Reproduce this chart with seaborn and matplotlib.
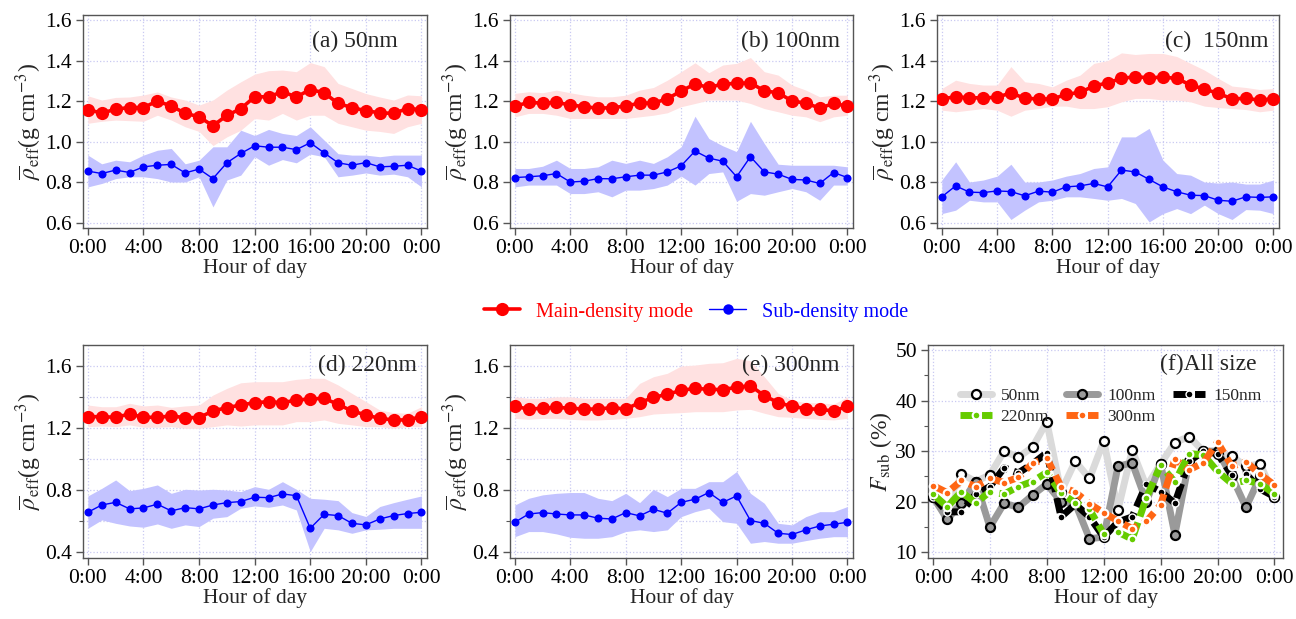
import matplotlib
matplotlib.use("Agg")
import matplotlib.pyplot as plt
import seaborn as sns
from matplotlib.ticker import MultipleLocator, FixedLocator, FixedFormatter, FormatStrFormatter, NullLocator
from matplotlib.lines import Line2D

# ---------------- data ----------------
hours = list(range(25))
hour_ticks = [0, 4, 8, 12, 16, 20, 24]
hour_labels = ["0:00", "4:00", "8:00", "12:00", "16:00", "20:00", "0:00"]

panel_labels = ["(a) 50nm", "(b) 100nm", "(c)  150nm", "(d) 220nm", "(e) 300nm", "(f)All size"]
legend_labels = ["Main-density mode", "Sub-density mode"]

a_main = [1.158, 1.14, 1.16, 1.168, 1.168, 1.20, 1.175, 1.14, 1.122, 1.078, 1.129, 1.162, 1.221, 1.221, 1.246, 1.22, 1.257, 1.241, 1.188, 1.168, 1.152, 1.142, 1.139, 1.163, 1.158]
a_main_hi = [1.226, 1.205, 1.218, 1.22, 1.23, 1.245, 1.22, 1.205, 1.18, 1.205, 1.254, 1.295, 1.333, 1.35, 1.353, 1.345, 1.39, 1.37, 1.287, 1.262, 1.237, 1.22, 1.205, 1.23, 1.226]
a_main_lo = [1.09, 1.10, 1.106, 1.103, 1.10, 1.13, 1.106, 1.073, 1.05, 0.98, 1.023, 1.056, 1.114, 1.106, 1.139, 1.106, 1.13, 1.13, 1.09, 1.073, 1.056, 1.05, 1.04, 1.073, 1.09]
a_sub = [0.854, 0.842, 0.859, 0.847, 0.875, 0.883, 0.887, 0.845, 0.864, 0.817, 0.895, 0.941, 0.979, 0.972, 0.972, 0.96, 0.994, 0.944, 0.895, 0.883, 0.896, 0.875, 0.878, 0.883, 0.854]
a_sub_hi = [0.933, 0.89, 0.908, 0.90, 0.933, 0.957, 0.966, 0.89, 0.908, 0.974, 0.974, 1.056, 1.03, 1.06, 1.04, 1.03, 1.073, 1.007, 0.94, 0.933, 0.933, 0.925, 0.933, 0.933, 0.933]
a_sub_lo = [0.776, 0.793, 0.817, 0.826, 0.826, 0.817, 0.80, 0.80, 0.826, 0.677, 0.81, 0.834, 0.925, 0.883, 0.911, 0.895, 0.938, 0.925, 0.826, 0.834, 0.845, 0.834, 0.839, 0.826, 0.776]

b_main = [1.175, 1.193, 1.19, 1.193, 1.181, 1.172, 1.165, 1.167, 1.175, 1.19, 1.19, 1.211, 1.25, 1.284, 1.267, 1.284, 1.287, 1.29, 1.25, 1.241, 1.20, 1.19, 1.165, 1.188, 1.175]
b_main_hi = [1.238, 1.246, 1.241, 1.254, 1.241, 1.229, 1.221, 1.221, 1.229, 1.254, 1.267, 1.303, 1.345, 1.389, 1.34, 1.378, 1.386, 1.415, 1.345, 1.328, 1.279, 1.254, 1.221, 1.229, 1.229]
b_main_lo = [1.122, 1.139, 1.139, 1.13, 1.114, 1.114, 1.114, 1.114, 1.114, 1.122, 1.13, 1.142, 1.172, 1.188, 1.205, 1.205, 1.205, 1.188, 1.163, 1.147, 1.13, 1.122, 1.098, 1.122, 1.13]
b_sub = [0.822, 0.826, 0.831, 0.842, 0.80, 0.804, 0.817, 0.816, 0.826, 0.834, 0.834, 0.85, 0.88, 0.953, 0.918, 0.903, 0.826, 0.925, 0.85, 0.839, 0.813, 0.81, 0.793, 0.847, 0.822]
b_sub_hi = [0.867, 0.867, 0.878, 0.908, 0.867, 0.867, 0.875, 0.908, 0.892, 0.908, 0.892, 0.925, 0.974, 1.125, 1.015, 0.979, 0.95, 1.10, 0.99, 0.888, 0.883, 0.883, 0.883, 0.883, 0.875]
b_sub_lo = [0.776, 0.785, 0.785, 0.785, 0.743, 0.743, 0.752, 0.727, 0.76, 0.76, 0.768, 0.785, 0.829, 0.785, 0.842, 0.85, 0.705, 0.743, 0.735, 0.752, 0.768, 0.752, 0.71, 0.785, 0.785]

c_main = [1.211, 1.221, 1.216, 1.216, 1.218, 1.241, 1.213, 1.211, 1.21, 1.233, 1.243, 1.274, 1.29, 1.312, 1.32, 1.315, 1.318, 1.312, 1.279, 1.259, 1.238, 1.211, 1.213, 1.205, 1.211]
c_main_hi = [1.262, 1.303, 1.287, 1.279, 1.279, 1.37, 1.295, 1.287, 1.27, 1.303, 1.328, 1.386, 1.40, 1.438, 1.43, 1.435, 1.435, 1.42, 1.386, 1.353, 1.312, 1.274, 1.267, 1.257, 1.262]
c_main_lo = [1.155, 1.147, 1.155, 1.163, 1.155, 1.125, 1.155, 1.163, 1.175, 1.175, 1.163, 1.163, 1.172, 1.196, 1.213, 1.213, 1.205, 1.205, 1.196, 1.175, 1.168, 1.163, 1.158, 1.147, 1.155]
c_sub = [0.727, 0.781, 0.75, 0.748, 0.756, 0.753, 0.732, 0.755, 0.75, 0.776, 0.781, 0.793, 0.776, 0.859, 0.85, 0.813, 0.776, 0.752, 0.735, 0.733, 0.71, 0.705, 0.727, 0.724, 0.727]
c_sub_hi = [0.81, 0.90, 0.80, 0.81, 0.829, 0.888, 0.80, 0.80, 0.81, 0.829, 0.842, 0.867, 0.875, 1.023, 1.023, 1.065, 0.908, 0.842, 0.834, 0.80, 0.795, 0.80, 0.79, 0.79, 0.81]
c_sub_lo = [0.644, 0.661, 0.71, 0.702, 0.702, 0.615, 0.661, 0.702, 0.71, 0.727, 0.727, 0.719, 0.71, 0.719, 0.694, 0.603, 0.644, 0.669, 0.644, 0.686, 0.644, 0.615, 0.664, 0.661, 0.644]

d_main = [1.272, 1.272, 1.268, 1.289, 1.268, 1.268, 1.276, 1.266, 1.266, 1.309, 1.33, 1.347, 1.362, 1.368, 1.362, 1.379, 1.386, 1.39, 1.351, 1.309, 1.283, 1.261, 1.251, 1.251, 1.272]
d_main_hi = [1.347, 1.336, 1.336, 1.358, 1.341, 1.347, 1.332, 1.341, 1.347, 1.411, 1.454, 1.49, 1.497, 1.497, 1.497, 1.512, 1.519, 1.519, 1.476, 1.422, 1.369, 1.315, 1.298, 1.294, 1.336]
d_main_lo = [1.208, 1.212, 1.208, 1.219, 1.204, 1.204, 1.208, 1.197, 1.197, 1.208, 1.219, 1.212, 1.219, 1.219, 1.219, 1.24, 1.24, 1.251, 1.229, 1.219, 1.208, 1.208, 1.197, 1.208, 1.208]
d_sub = [0.657, 0.704, 0.721, 0.679, 0.685, 0.709, 0.666, 0.687, 0.679, 0.704, 0.719, 0.726, 0.754, 0.751, 0.775, 0.764, 0.554, 0.644, 0.636, 0.586, 0.576, 0.614, 0.636, 0.649, 0.657]
d_sub_hi = [0.762, 0.811, 0.865, 0.796, 0.811, 0.833, 0.779, 0.805, 0.80, 0.805, 0.80, 0.79, 0.822, 0.805, 0.854, 0.805, 0.747, 0.741, 0.732, 0.655, 0.63, 0.694, 0.719, 0.741, 0.762]
d_sub_lo = [0.554, 0.608, 0.586, 0.569, 0.561, 0.582, 0.554, 0.576, 0.565, 0.619, 0.629, 0.683, 0.698, 0.689, 0.704, 0.672, 0.404, 0.554, 0.544, 0.522, 0.544, 0.548, 0.554, 0.554, 0.554]

e_main = [1.338, 1.321, 1.326, 1.332, 1.326, 1.321, 1.321, 1.33, 1.321, 1.362, 1.396, 1.416, 1.441, 1.454, 1.448, 1.446, 1.461, 1.471, 1.407, 1.362, 1.338, 1.324, 1.319, 1.309, 1.338]
e_main_hi = [1.40, 1.39, 1.39, 1.40, 1.40, 1.39, 1.39, 1.39, 1.39, 1.486, 1.529, 1.551, 1.598, 1.604, 1.615, 1.619, 1.647, 1.632, 1.529, 1.422, 1.379, 1.362, 1.362, 1.353, 1.40]
e_main_lo = [1.261, 1.255, 1.261, 1.261, 1.255, 1.251, 1.251, 1.255, 1.261, 1.272, 1.289, 1.294, 1.298, 1.304, 1.304, 1.304, 1.315, 1.319, 1.294, 1.272, 1.268, 1.261, 1.255, 1.251, 1.261]
e_sub = [0.593, 0.646, 0.655, 0.646, 0.64, 0.64, 0.619, 0.614, 0.655, 0.634, 0.676, 0.651, 0.721, 0.741, 0.784, 0.721, 0.762, 0.604, 0.586, 0.522, 0.514, 0.544, 0.569, 0.58, 0.593]
e_sub_hi = [0.704, 0.747, 0.769, 0.779, 0.784, 0.784, 0.747, 0.732, 0.779, 0.719, 0.805, 0.758, 0.811, 0.811, 0.854, 0.854, 0.919, 0.779, 0.715, 0.586, 0.576, 0.629, 0.661, 0.661, 0.694]
e_sub_lo = [0.50, 0.533, 0.533, 0.518, 0.496, 0.49, 0.49, 0.50, 0.533, 0.544, 0.533, 0.544, 0.629, 0.661, 0.683, 0.597, 0.586, 0.458, 0.469, 0.458, 0.458, 0.475, 0.49, 0.50, 0.50]

f_sizes = ["50nm", "100nm", "150nm", "220nm", "300nm"]
f_50 = [21, 17, 25.5, 24, 25.3, 30, 28.8, 30.8, 35.8, 22, 28, 24.6, 32, 18.4, 30.2, 23, 27.5, 31.7, 32.9, 30, 29.5, 29, 27, 27.5, 21]
f_100 = [21, 16.5, 19.7, 24, 15, 19.7, 18.9, 21.3, 23.5, 20, 19.7, 12.7, 13, 27, 27.7, 20, 27.5, 13.5, 28, 30, 30, 25, 18.9, 25, 21]
f_150 = [21, 18, 18, 21.5, 23, 26.7, 25.7, 27.5, 29.7, 17, 19.5, 17, 13, 16, 17, 23.5, 22, 19.7, 28, 30, 29.5, 25.3, 25.5, 22.5, 21]
f_220 = [21.5, 19, 22, 19.7, 22, 21.5, 23, 24, 25.8, 21.7, 19.8, 18.5, 13.6, 14, 12.6, 20.8, 27.2, 23.9, 29.5, 29.3, 26, 23.6, 24.2, 23.6, 21.5]
f_300 = [23.2, 21.8, 24.2, 23, 24.6, 23.8, 24.8, 27.6, 28.6, 23, 21.9, 19.6, 17.8, 16.2, 14.7, 16.1, 19.4, 28.4, 26.3, 27.7, 31.8, 27, 27.9, 25.4, 23.3]

# ---------------- style ----------------
sns.set_theme(style="ticks")
plt.rcParams["font.family"] = ["Liberation Serif", "DejaVu Serif"]
plt.rcParams["mathtext.fontset"] = "stix"

RED = "#ff0000"
BLUE = "#0000ff"
RED_BAND = "#ffe1e1"
BLUE_BAND = "#c3c3ff"
GRID = "#c9c9f2"
SPINE = "#555555"
FS = 15.5
YFS = 17

fig = plt.figure(figsize=(12.96, 6.19), dpi=100)
W, H = 1296.0, 619.0


def make_ax(left, top, right, bottom):
    return fig.add_axes([left / W, (H - bottom) / H, (right - left) / W, (bottom - top) / H])


def style_ax(ax, xlim, ylim, ymaj, ymin, ygrid_minor, fmt):
    ax.set_xlim(*xlim)
    ax.set_ylim(*ylim)
    ax.xaxis.set_major_locator(FixedLocator(hour_ticks))
    ax.xaxis.set_major_formatter(FixedFormatter(hour_labels))
    ax.xaxis.set_minor_locator(NullLocator())
    ax.yaxis.set_major_locator(MultipleLocator(ymaj))
    if ymin:
        ax.yaxis.set_minor_locator(MultipleLocator(ymin))
    else:
        ax.yaxis.set_minor_locator(NullLocator())
    ax.yaxis.set_major_formatter(FormatStrFormatter(fmt))
    ax.grid(True, which="major", color=GRID, ls=":", lw=0.9)
    if ygrid_minor:
        ax.grid(True, which="minor", axis="y", color=GRID, ls=":", lw=0.9)
    ax.set_axisbelow(True)
    for s in ax.spines.values():
        s.set_visible(True)
        s.set_color(SPINE)
        s.set_linewidth(1.0)
    ax.tick_params(which="major", direction="out", length=5, width=1, color=SPINE,
                   labelsize=FS, labelcolor="black", top=False, right=False, pad=3)
    ax.tick_params(which="minor", direction="out", length=3, width=0.8, color=SPINE,
                   top=False, right=False)
    ax.set_xlabel("Hour of day", fontsize=FS, labelpad=0)


ylab = r"$\overline{\rho}_{\mathrm{eff}}$(g cm$^{-3}$)"


def density_panel(ax, main, main_lo, main_hi, sub, sub_lo, sub_hi, label, tx, ty,
                  ylim, ymaj, ymin, ygrid_minor):
    ax.fill_between(hours, main_lo, main_hi, color=RED_BAND, lw=0, zorder=1)
    ax.fill_between(hours, sub_lo, sub_hi, color=BLUE_BAND, lw=0, zorder=1.1)
    sns.lineplot(x=hours, y=main, ax=ax, color=RED, lw=2.6, marker="o", markersize=9.5,
                 markeredgecolor=RED, markeredgewidth=0, zorder=3)
    sns.lineplot(x=hours, y=sub, ax=ax, color=BLUE, lw=1.0, marker="o", markersize=5.8,
                 markeredgecolor=BLUE, markeredgewidth=0, zorder=3)
    style_ax(ax, (-0.35, 24.4), ylim, ymaj, ymin, ygrid_minor, "%.1f")
    ax.set_ylabel(ylab, fontsize=YFS, labelpad=1)
    ax.text(tx, ty, label, transform=ax.transAxes, ha="right", va="center", fontsize=17)


ax_a = make_ax(83, 15, 427, 228)
ax_b = make_ax(510, 15, 853, 228)
ax_c = make_ax(937, 15, 1279, 228)
ax_d = make_ax(83, 345, 427, 558)
ax_e = make_ax(510, 345, 853, 558)
ax_f = make_ax(928, 345, 1283, 558)

top_ylim = (0.573, 1.625)
bot_ylim = (0.363, 1.733)
density_panel(ax_a, a_main, a_main_lo, a_main_hi, a_sub, a_sub_lo, a_sub_hi, panel_labels[0], 0.915, 0.875, top_ylim, 0.2, None, False)
density_panel(ax_b, b_main, b_main_lo, b_main_hi, b_sub, b_sub_lo, b_sub_hi, panel_labels[1], 0.962, 0.875, top_ylim, 0.2, None, False)
density_panel(ax_c, c_main, c_main_lo, c_main_hi, c_sub, c_sub_lo, c_sub_hi, panel_labels[2], 0.968, 0.875, top_ylim, 0.2, None, False)
density_panel(ax_d, d_main, d_main_lo, d_main_hi, d_sub, d_sub_lo, d_sub_hi, panel_labels[3], 0.97, 0.905, bot_ylim, 0.4, 0.2, True)
density_panel(ax_e, e_main, e_main_lo, e_main_hi, e_sub, e_sub_lo, e_sub_hi, panel_labels[4], 0.962, 0.905, bot_ylim, 0.4, 0.2, True)

# ---------------- panel f ----------------
dash = (0, (2.2, 0.9))
f_specs = [
    (f_50, dict(color="#dadada", lw=5, ls="-", marker="o", markersize=6.5, markerfacecolor="white", markeredgecolor="black", markeredgewidth=1.6)),
    (f_100, dict(color="#9a9a9a", lw=5, ls="-", marker="o", markersize=6.5, markerfacecolor="#9a9a9a", markeredgecolor="black", markeredgewidth=1.6)),
    (f_150, dict(color="black", lw=5, ls=dash, marker="o", markersize=5.0, markerfacecolor="black", markeredgecolor="white", markeredgewidth=1.0)),
    (f_220, dict(color="#66cc00", lw=5, ls=dash, marker="o", markersize=5.5, markerfacecolor="#66cc00", markeredgecolor="white", markeredgewidth=1.5)),
    (f_300, dict(color="#ff6614", lw=5, ls=dash, marker="o", markersize=5.5, markerfacecolor="#ff6614", markeredgecolor="white", markeredgewidth=1.5)),
]
f_handles = []
for i, (vals, kw) in enumerate(f_specs):
    sns.lineplot(x=hours, y=vals, ax=ax_f, zorder=3 + i, **kw)
    f_handles.append(Line2D([0], [0], **kw))

style_ax(ax_f, (-0.35, 24.6), (8.87, 51.0), 10, 5, False, "%d")
ax_f.set_ylabel(r"$F_{\mathrm{sub}}$ (%)", fontsize=YFS, labelpad=1)
ax_f.text(0.927, 0.91, panel_labels[5], transform=ax_f.transAxes, ha="right", va="center", fontsize=17)
order = [0, 3, 1, 4, 2]
ax_f.legend([f_handles[i] for i in order], [f_sizes[i] for i in order], ncol=3, frameon=False,
            loc="upper left", bbox_to_anchor=(0.055, 0.855), fontsize=12.5, handlelength=1.85,
            handletextpad=0.5, columnspacing=1.0, labelspacing=0.25, borderpad=0.2)

# ---------------- shared legend ----------------
main_handle = Line2D([0], [0], color=RED, lw=2.6, marker="o", markersize=9.5, markeredgewidth=0)
sub_handle = Line2D([0], [0], color=BLUE, lw=1.0, marker="o", markersize=7.5, markeredgewidth=0)
leg = fig.legend([main_handle, sub_handle], legend_labels, ncol=2, frameon=False,
                 loc="center", bbox_to_anchor=(0.537, 0.496), fontsize=14.5,
                 handlelength=1.8, handletextpad=0.8, columnspacing=0.8, labelcolor="linecolor")

fig.savefig("out.png", dpi=100)
